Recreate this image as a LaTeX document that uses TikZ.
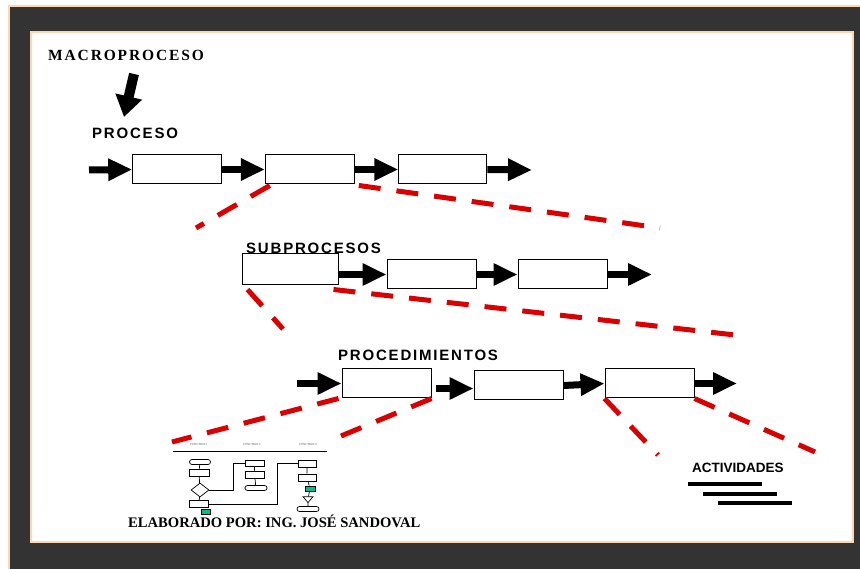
\documentclass[tikz,border=0pt]{standalone}
\usepackage{fontspec}
\setmainfont{Liberation Serif}
\newfontfamily\headsans[LetterSpace=12]{Liberation Sans}
\newfontfamily\plainsans{Liberation Sans}
\newfontfamily\headserif[LetterSpace=12]{Liberation Serif}
\usetikzlibrary{arrows.meta,shapes.geometric}
\definecolor{framegray}{RGB}{51,51,51}
\definecolor{peach}{RGB}{255,214,176}
\definecolor{dashred}{RGB}{218,0,0}
\definecolor{flowgreen}{RGB}{0,190,140}

\begin{document}
\begin{tikzpicture}[x=1pt,y=-1pt,
  stage/.style={draw,line width=1pt,fill=white,minimum width=89pt,minimum height=29pt,inner sep=0pt},
  flow/.style={line width=7pt,-{Triangle[length=24pt,width=21pt]}},
  zoomline/.style={dashred,line width=5pt,dash pattern=on 22pt off 16pt},
  levellabel/.style={font=\headsans\bfseries\fontsize{15}{18}\selectfont,anchor=base west,inner sep=0pt},
  minibox/.style={draw,line width=0.7pt,fill=white,inner sep=0pt,minimum width=19pt,minimum height=7pt},
  miniend/.style={minibox,rounded corners=2.5pt,minimum width=21pt,minimum height=5pt},
  minigreen/.style={draw,line width=0.7pt,fill=flowgreen,inner sep=0pt,minimum width=9pt,minimum height=5pt},
  minitext/.style={font=\fontsize{3}{3}\selectfont,text=black!70,inner sep=0pt}]
  \useasboundingbox (0,0) rectangle (860,569);

  % frame
  \fill[white] (0,0) rectangle (860,569);
  \fill[framegray] (9,6) rectangle (860,569);
  \draw[peach,line width=2pt] (9,569) -- (9,6) -- (860,6);
  \fill[white] (31,32) rectangle (853,542);
  \draw[peach,line width=2.5pt] (31,32) rectangle (853,542);

  % titles
  \node[anchor=base west,inner sep=0pt,font=\headserif\bfseries\fontsize{15.5}{18}\selectfont] (macro) at (48,61) {MACROPROCESO};
  \node[levellabel] (proceso) at (92,139) {PROCESO};
  \node[levellabel] (subproc) at (246,254) {SUBPROCESOS};
  \node[levellabel] (proced) at (338,360.5) {PROCEDIMIENTOS};
  \node[anchor=base west,inner sep=0pt,font=\plainsans\bfseries\fontsize{13.5}{16}\selectfont] (activ) at (692,472) {ACTIVIDADES};
  \node[anchor=base west,inner sep=0pt,font=\bfseries\fontsize{14.6}{17}\selectfont] (autor) at (128,527) {ELABORADO POR: ING. JOSÉ SANDOVAL};

  % macro arrow
  \coordinate (mtop) at (134,74);
  \coordinate (mtip) at (124,117);
  \draw[line width=10pt,-{Triangle[length=21pt,width=26pt]}] (mtop) -- (mtip);

  % proceso row
  \node[stage] (p1) at (177.2,169.5) {};
  \node[stage] (p2) at (309.8,169.5) {};
  \node[stage,minimum width=88pt] (p3) at (442.8,169.5) {};
  \coordinate (pin) at (89,170);
  \coordinate (pout) at (532,170);
  \draw[flow] (pin) -- (p1.west);
  \draw[flow] (p1.east) -- (p2.west);
  \draw[flow] (p2.east) -- (p3.west);
  \draw[flow] (p3.east) -- (pout);

  % subprocesos row
  \node[stage,minimum width=96pt,minimum height=31pt] (s1) at (290,269.5) {};
  \node[stage] (s2) at (431.5,274.5) {};
  \node[stage] (s3) at (562.5,274.5) {};
  \coordinate (sout) at (652,274.5);
  \draw[flow] ([yshift=-5pt]s1.east) -- (s2.west);
  \draw[flow] (s2.east) -- (s3.west);
  \draw[flow] (s3.east) -- (sout);

  % procedimientos row
  \node[stage] (c1) at (386.5,383.5) {};
  \node[stage] (c2) at (518.5,385.5) {};
  \node[stage] (c3) at (649.5,383.5) {};
  \coordinate (cin) at (297,383.5);
  \coordinate (cout) at (737,383.5);
  \draw[flow] (cin) -- (c1.west);
  \draw[flow] ([xshift=4pt,yshift=-5pt]c1.east) -- ([yshift=-3pt]c2.west);
  \draw[flow] (c2.east) -- (c3.west);
  \draw[flow] (c3.east) -- (cout);

  % zoom lines
  \coordinate (z1) at (196,228);
  \coordinate (z2) at (660,228);
  \coordinate (z3) at (283,329);
  \coordinate (z4) at (735,335);
  \coordinate (z5) at (172,442);
  \coordinate (z6) at (341,436);
  \coordinate (z7) at (658,455);
  \coordinate (z8) at (815,452);
  \draw[zoomline] ([xshift=5pt,yshift=-1pt]p2.south west) -- (z1);
  \draw[zoomline] ([xshift=4pt,yshift=-1pt]p2.south east) -- (z2);
  \draw[zoomline] ([xshift=6pt,yshift=-4pt]s1.south west) -- (z3);
  \draw[zoomline] ([xshift=-5pt,yshift=-4pt]s1.south east) -- (z4);
  \draw[zoomline] ([xshift=-3pt]c1.south west) -- (z5);
  \draw[zoomline] (c1.south east) -- (z6);
  \draw[zoomline] (c3.south west) -- (z7);
  \draw[zoomline] (c3.south east) -- (z8);

  % procedure thumbnail
  \node[minitext] (f1) at (199,445) {FUNCTION 1};
  \node[minitext] (f2) at (252,445) {FUNCTION 2};
  \node[minitext] (f3) at (308,445) {FUNCTION 3};
  \draw[line width=0.8pt] (173,451) -- (327,451);
  \node[miniend] (t1) at (200,462) {};
  \node[minibox,minimum width=20pt] (b1) at (199,472.5) {};
  \node[draw,line width=0.7pt,fill=white,diamond,aspect=1.3,inner sep=0pt,minimum width=18pt,minimum height=14pt] (d1) at (200,490) {};
  \node[minibox] (b2) at (199,504) {};
  \node[minigreen] (g1) at (205.5,511.5) {};
  \node[minibox,minimum height=6pt] (b3) at (254.5,463) {};
  \node[minibox] (b4) at (254.5,474.5) {};
  \node[miniend,minimum width=22pt] (t2) at (256,488) {};
  \node[minibox,minimum width=18pt] (b5) at (307,463.5) {};
  \node[minibox,minimum width=18pt] (b6) at (307,477.5) {};
  \node[minigreen,minimum width=10pt] (g2) at (310,488.5) {};
  \node[draw,line width=0.7pt,fill=white,isosceles triangle,shape border rotate=-90,isosceles triangle apex angle=80,inner sep=0pt,minimum width=10pt,minimum height=6pt] (tri) at (308,499) {};
  \node[miniend,minimum width=22pt] (t3) at (308,509) {};
  \draw[line width=0.7pt] (t1) -- (b1) -- (d1) -- (b2);
  \draw[line width=0.7pt] (d1.east) -- ++(24,0) |- (b3.west);
  \draw[line width=0.7pt] (b2.east) -- ++(68,0) |- (b5.west);
  \draw[line width=0.7pt] (b3) -- (b4) -- (t2);
  \draw[line width=0.7pt] (b5) -- (b6) -- (g2) -- (tri) -- (t3);

  % activity lines
  \draw[line width=4pt] (688,484) -- (762,484);
  \draw[line width=4pt] (703,494) -- (777,494);
  \draw[line width=4pt] (718,503) -- (792,503);
\end{tikzpicture}
\end{document}
